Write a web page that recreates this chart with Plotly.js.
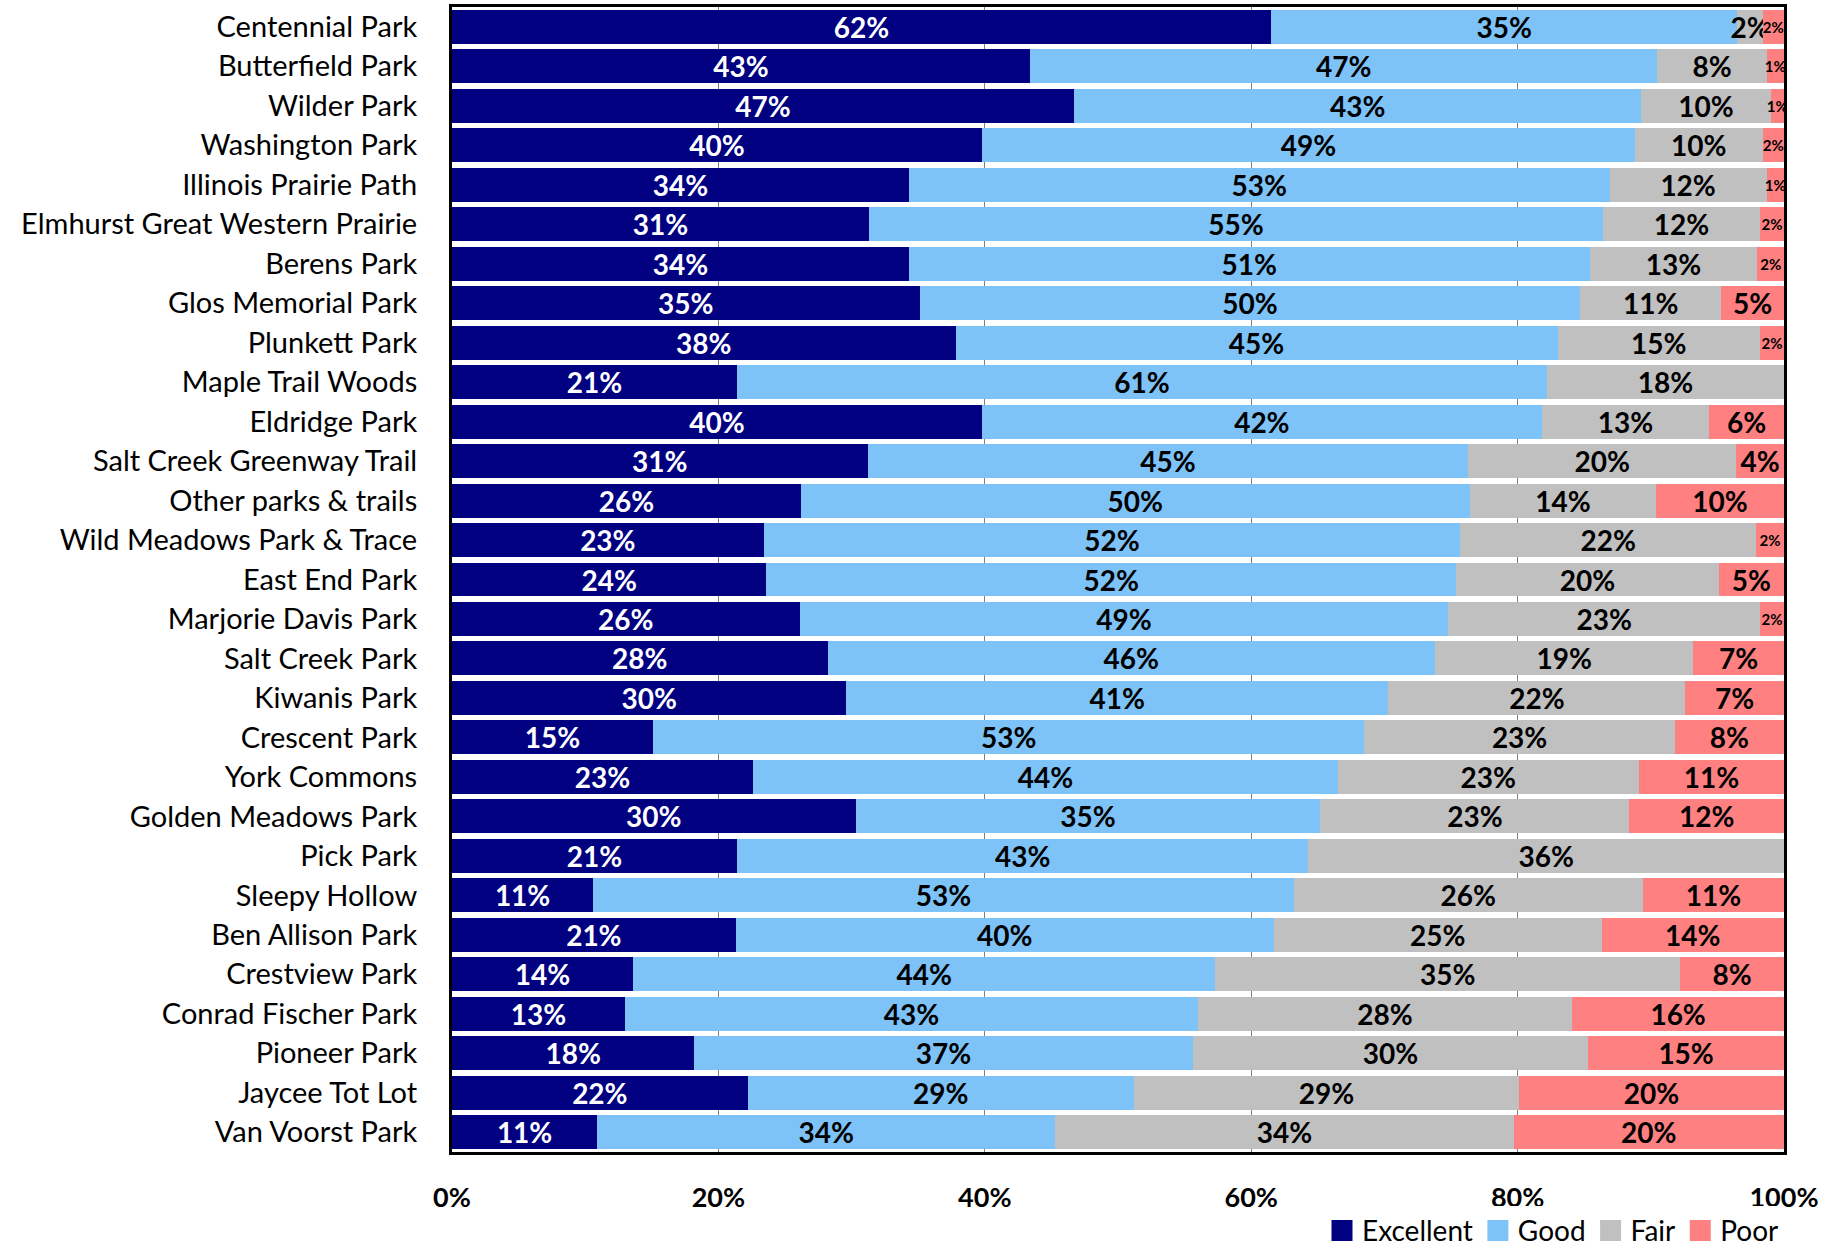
<!DOCTYPE html>
<html>
<head>
<meta charset="utf-8">
<script src="https://cdn.plot.ly/plotly-3.0.1.min.js"></script>
<style>html,body{margin:0;padding:0;background:#fff;}#chart{width:1839px;height:1252px;}</style>
</head>
<body>
<div id="chart"></div>
<script>
const parks = ["Centennial Park","Butterfield Park","Wilder Park","Washington Park","Illinois Prairie Path","Elmhurst Great Western Prairie","Berens Park","Glos Memorial Park","Plunkett Park","Maple Trail Woods","Eldridge Park","Salt Creek Greenway Trail","Other parks & trails","Wild Meadows Park & Trace","East End Park","Marjorie Davis Park","Salt Creek Park","Kiwanis Park","Crescent Park","York Commons","Golden Meadows Park","Pick Park","Sleepy Hollow","Ben Allison Park","Crestview Park","Conrad Fischer Park","Pioneer Park","Jaycee Tot Lot","Van Voorst Park"];
const excellent = [61.5,43.4,46.7,39.8,34.3,31.3,34.3,35.1,37.8,21.4,39.8,31.2,26.2,23.4,23.6,26.1,28.2,29.6,15.1,22.6,30.3,21.4,10.6,21.3,13.6,13.0,18.2,22.2,10.9];
const good      = [35.0,47.1,42.6,49.0,52.6,55.1,51.1,49.6,45.2,60.8,42.0,45.1,50.2,52.3,51.8,48.7,45.6,40.7,53.4,43.9,34.9,42.9,52.6,40.4,43.7,43.0,37.4,29.0,34.4];
const fair      = [1.9,8.2,9.7,9.6,11.8,11.8,12.6,10.6,15.2,17.8,12.6,20.1,14.0,22.2,19.7,23.4,19.4,22.3,23.3,22.6,23.2,35.7,26.2,24.6,34.9,28.1,29.7,28.9,34.4];
const poor      = [1.6,1.3,1.0,1.6,1.3,1.8,2.0,4.7,1.8,0,5.6,3.6,9.6,2.1,4.9,1.8,6.8,7.4,8.2,10.9,11.6,0,10.6,13.7,7.8,15.9,14.7,19.9,20.3];
const seriesNames = ["Excellent","Good","Fair","Poor"];
const seriesColors = ["#000080","#7DC3F8","#C0C0C0","#FF8080"];
const textColors = ["#FFFFFF","#000000","#000000","#000000"];
const seriesValues = [excellent, good, fair, poor];

const FONT = "Lato, 'Liberation Sans', sans-serif";

const barTraces = seriesValues.map((vals, i) => ({
  type: 'bar',
  orientation: 'h',
  name: seriesNames[i],
  legendgroup: seriesNames[i],
  showlegend: false,
  y: parks,
  x: vals,
  marker: {color: seriesColors[i], line: {width: 0}},
  text: vals.map(v => v > 0 ? Math.round(v) + '%' : ''),
  textposition: 'inside',
  insidetextanchor: 'middle',
  constraintext: 'none',
  textangle: 0,
  textfont: {
    family: FONT,
    weight: 'bold',
    color: textColors[i],
    size: vals.map(v => (i === 3 && v < 2.5) ? 15 : 28)
  },
  hoverinfo: 'name+x+y'
}));

// legend-only entries with larger square swatches
const legendTraces = seriesNames.map((n, i) => ({
  type: 'scatter',
  mode: 'markers',
  name: n,
  legendgroup: n,
  x: [null],
  y: [null],
  marker: {symbol: 'square', size: 16, color: seriesColors[i], line: {color: seriesColors[i], width: 5}},
  hoverinfo: 'skip'
}));

const layout = {
  width: 1839,
  height: 1252,
  barmode: 'stack',
  bargap: 0.14,
  paper_bgcolor: '#FFFFFF',
  plot_bgcolor: '#FFFFFF',
  margin: {l: 452, r: 55, t: 7, b: 100},
  font: {family: FONT, size: 28, color: '#000'},
  showlegend: true,
  legend: {
    orientation: 'h',
    x: 1, xanchor: 'right', xref: 'paper',
    y: 0.017, yanchor: 'middle', yref: 'container',
    traceorder: 'normal',
    font: {family: FONT, size: 28, color: '#000'},
    itemwidth: 30,
    itemsizing: 'trace',
    tracegroupgap: 0
  },
  xaxis: {
    range: [0, 100],
    tickvals: [0, 20, 40, 60, 80, 100],
    ticktext: ['0%', '20%', '40%', '60%', '80%', '100%'],
    tickfont: {family: FONT, size: 27, weight: 'bold', color: '#000'},
    showgrid: true,
    gridcolor: '#808080',
    gridwidth: 1,
    zeroline: false,
    showline: true,
    linecolor: '#000',
    linewidth: 3,
    mirror: true,
    ticks: '',
    ticklabelstandoff: 20,
    fixedrange: true
  },
  yaxis: {
    type: 'category',
    autorange: 'reversed',
    tickfont: {family: FONT, size: 29, color: '#000'},
    showgrid: false,
    zeroline: false,
    showline: true,
    linecolor: '#000',
    linewidth: 3,
    mirror: true,
    ticks: '',
    ticklabelstandoff: 26,
    fixedrange: true
  }
};

Plotly.newPlot('chart', barTraces.concat(legendTraces), layout, {displayModeBar: false, staticPlot: true});
</script>
</body>
</html>
